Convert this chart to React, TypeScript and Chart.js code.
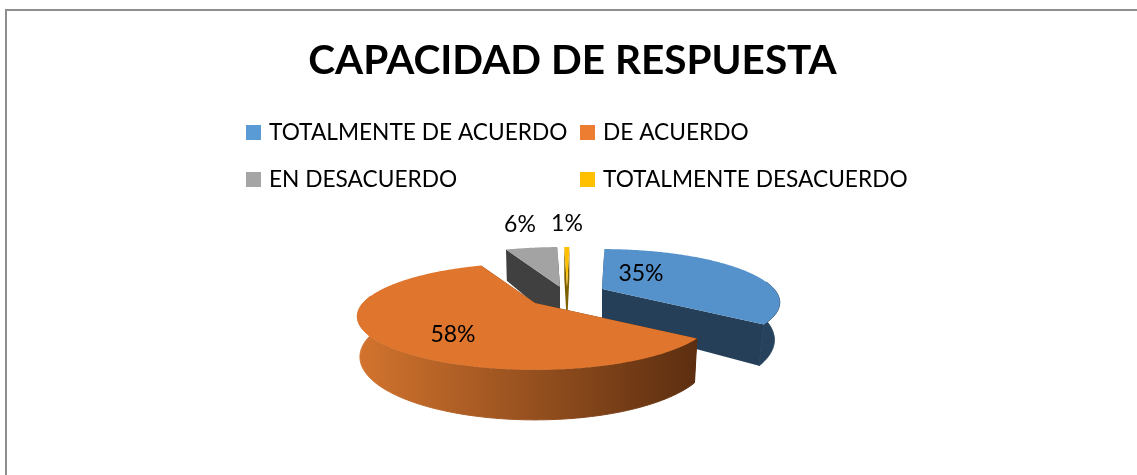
import React, { useEffect, useRef } from "react";
import { Chart, registerables } from "chart.js";

Chart.register(...registerables);

const chartTitle = "CAPACIDAD DE RESPUESTA";
const categories = ["TOTALMENTE DE ACUERDO", "DE ACUERDO", "EN DESACUERDO", "TOTALMENTE DESACUERDO"];
const values = [35, 58.4, 6, 0.6];

const topColors = ["#5592CB", "#E0762D", "#A3A3A3", "#FFC000"];
const legendColors = ["#5B9BD5", "#ED7D31", "#A5A5A5", "#FFC000"];
const cutColors = ["#243F57", "#5E2F11", "#404040", "#7F6000"];
const wallFrom = ["#243F57", "#D3742E", "#404040", "#7F6000"];
const wallTo = ["#26425C", "#5C2E10", "#404040", "#7F6000"];

// Presentation of the tilted, exploded pie (styling, not data)
const apexes = [[602, 289], [535, 303], [560, 287], [567, 287]];
const depths = [35, 38, 38, 38];
const narrowing = [0.97, 0.985, 0.985, 0.985];
const labelShift = [[39, -15], [-82, 32], [-40, -62], [0, -63]];
const drawOrder = [3, 2, 0, 1];
const legendSlots = [[246, 132], [580, 132], [246, 179], [580, 179]];
const FONT = "Lato, 'Open Sans', sans-serif";

const project = (theta: number, ax: number, ay: number) => {
  const X = Math.sin(theta);
  const Z = Math.cos(theta);
  const s = 1 / (1 + 0.252 * Z);
  return { x: ax + 172 * X * s, y: ay - 50 * Z * s };
};
const lower = (p: { x: number; y: number }, ax: number, ay: number, i: number) => ({
  x: ax + (p.x - ax) * narrowing[i],
  y: p.y + depths[i] + 0.18 * (p.y - ay),
});

const pie3d = {
  id: "pie3d",
  beforeDraw(chart: any) {
    const c = chart.ctx;
    c.save();
    c.fillStyle = "#8E8E8E";
    c.fillRect(5, 9, 1132, 2);
    c.fillRect(5, 9, 2, 466);
    c.restore();
  },
  beforeDatasetsDraw(chart: any) {
    const c = chart.ctx;
    const arcs = chart.getDatasetMeta(0).data;
    for (const i of drawOrder) {
      const arc = arcs[i];
      const t0 = arc.startAngle + Math.PI / 2;
      const t1 = arc.endAngle + Math.PI / 2;
      const [ax, ay] = apexes[i];
      const n = Math.max(2, Math.ceil((t1 - t0) / 0.01));
      const rim: { t: number; x: number; y: number }[] = [];
      for (let k = 0; k <= n; k++) {
        const t = t0 + ((t1 - t0) * k) / n;
        rim.push({ t, ...project(t, ax, ay) });
      }
      const apexBottom = lower({ x: ax, y: ay }, ax, ay, i);
      const first = rim[0];
      const last = rim[rim.length - 1];
      c.fillStyle = cutColors[i];
      for (const e of [first, last]) {
        const b = lower(e, ax, ay, i);
        c.beginPath();
        c.moveTo(ax, ay);
        c.lineTo(e.x, e.y);
        c.lineTo(b.x, b.y);
        c.lineTo(apexBottom.x, apexBottom.y);
        c.closePath();
        c.fill();
      }
      const front = rim.filter((p) => Math.cos(p.t) < 0.15);
      if (front.length > 1) {
        const g = c.createLinearGradient(
          i === 1 ? 357 : ax,
          0,
          i === 1 ? 697 : ax + 172,
          0
        );
        g.addColorStop(0, wallFrom[i]);
        g.addColorStop(1, wallTo[i]);
        c.fillStyle = g;
        c.strokeStyle = g;
        c.lineWidth = 1;
        c.beginPath();
        front.forEach((p, k) => (k ? c.lineTo(p.x, p.y) : c.moveTo(p.x, p.y)));
        for (let k = front.length - 1; k >= 0; k--) {
          const b = lower(front[k], ax, ay, i);
          c.lineTo(b.x, b.y);
        }
        c.closePath();
        c.fill();
        c.stroke();
      }
      c.fillStyle = topColors[i];
      c.beginPath();
      c.moveTo(ax, ay);
      rim.forEach((p) => c.lineTo(p.x, p.y));
      c.closePath();
      c.fill();
    }
    return false;
  },
  afterDraw(chart: any) {
    const c = chart.ctx;
    const total = values.reduce((a, b) => a + b, 0);
    c.save();
    c.fillStyle = "#000";
    c.textBaseline = "middle";
    c.font = `23px ${FONT}`;
    c.textAlign = "center";
    values.forEach((v, i) => {
      c.fillText(
        `${Math.round((v / total) * 100)}%`,
        apexes[i][0] + labelShift[i][0],
        apexes[i][1] + labelShift[i][1]
      );
    });
    c.font = `22.7px ${FONT}`;
    c.textAlign = "left";
    categories.forEach((name, i) => {
      const [x, y] = legendSlots[i];
      c.fillStyle = legendColors[i];
      c.fillRect(x, y - 7, 15, 15);
      c.fillStyle = "#000";
      c.fillText(name, x + 23, y + 1);
    });
    c.restore();
  },
};

export default function App() {
  const ref = useRef<HTMLCanvasElement>(null);
  useEffect(() => {
    document.body.style.background = "#fff";
    const chart = new Chart(ref.current!, {
      type: "pie",
      data: {
        labels: categories,
        datasets: [{ data: values, backgroundColor: legendColors, borderWidth: 0 }],
      },
      options: {
        responsive: false,
        animation: false,
        rotation: 1,
        layout: { padding: { left: 8 } },
        plugins: {
          legend: { display: false },
          tooltip: { enabled: false },
          title: {
            display: true,
            text: chartTitle,
            color: "#000",
            font: { family: FONT, size: 40.5, weight: "bold" },
            padding: { top: 37, bottom: 10 },
          },
        },
      },
      plugins: [pie3d],
    } as any);
    return () => chart.destroy();
  }, []);
  return (
    <div style={{ position: "fixed", left: 0, top: 0 }}>
      <canvas ref={ref} width={1137} height={475} style={{ display: "block" }} />
    </div>
  );
}
